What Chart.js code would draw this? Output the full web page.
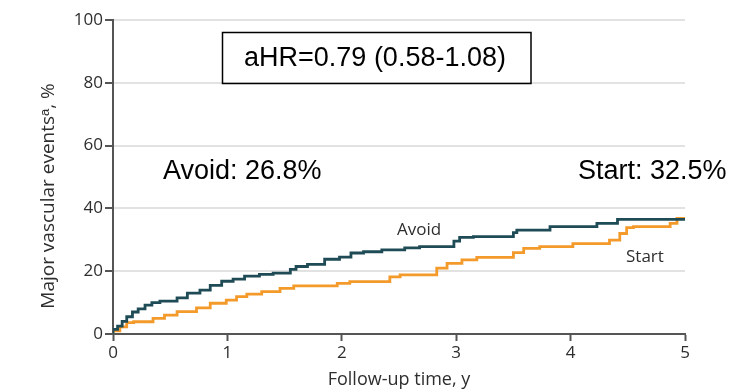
<!DOCTYPE html>
<html>
<head>
<meta charset="utf-8">
<script src="https://cdn.jsdelivr.net/npm/chart.js@4.4.1/dist/chart.umd.min.js"></script>
<style>
  html, body { margin: 0; padding: 0; background: #fff; }
  #wrap { width: 733px; height: 392px; }
</style>
</head>
<body>
<div id="wrap"><canvas id="kmChart" width="733" height="392"></canvas></div>
<script>
// Cumulative incidence (years, %)
const avoidTimes = [0, 0.04, 0.08, 0.12, 0.17, 0.22, 0.28, 0.34, 0.41, 0.56, 0.65, 0.76, 0.85, 0.95, 1.05, 1.15, 1.28, 1.40, 1.55, 1.60, 1.70, 1.85, 1.98, 2.08, 2.19, 2.35, 2.55, 2.68, 2.98, 3.03, 3.15, 3.50, 3.53, 3.82, 4.23, 4.41, 4.61, 5.0];
const avoidValues = [0, 1.5, 2.5, 4, 5.5, 7, 8, 9.2, 10, 10.5, 11.5, 13, 14, 15.5, 16.8, 17.5, 18.4, 19, 19.4, 20.6, 21.5, 22.2, 23.8, 24.5, 25.8, 26.2, 26.8, 27.4, 27.8, 29.6, 30.8, 31, 32.3, 33.1, 34.2, 35.2, 36.5, 36.5];

const startTimes = [0, 0.06, 0.12, 0.18, 0.35, 0.45, 0.56, 0.73, 0.85, 0.99, 1.08, 1.17, 1.30, 1.46, 1.58, 1.96, 2.07, 2.42, 2.51, 2.83, 2.92, 3.05, 3.18, 3.50, 3.59, 3.73, 4.02, 4.34, 4.43, 4.49, 4.55, 4.87, 4.93, 4.98, 5.0];
const startValues = [0, 1, 2.3, 3.6, 3.9, 5, 6, 7.1, 8.3, 9.8, 10.8, 11.9, 12.7, 13.5, 14.5, 15.3, 16.1, 16.7, 18.2, 18.8, 21, 22.5, 23.6, 24.4, 25.9, 27.3, 27.8, 28.8, 29.9, 32, 33.9, 34.2, 35.2, 36.8, 36.8];

const xTicks = [0, 1, 2, 3, 4, 5];
const yTicks = [0, 20, 40, 60, 80, 100];

const hrText = 'aHR=0.79 (0.58-1.08)';
const avoidNote = 'Avoid: 26.8%';
const startNote = 'Start: 32.5%';

const avoidColor = '#1e4b55';
const startColor = '#f39a2b';
const axisColor = '#555555';
const textColor = '#2e2e2e';
const tickFont = { family: '"Open Sans", sans-serif', size: 17 };

function toPoints(times, values) {
  return times.map((t, i) => ({ x: t, y: values[i] }));
}

// Text annotations pasted over the plot
const notesPlugin = {
  id: 'notes',
  afterDraw(chart) {
    const ctx = chart.ctx;
    ctx.save();

    // hazard ratio box
    ctx.strokeStyle = '#000';
    ctx.lineWidth = 1.5;
    ctx.strokeRect(222.5, 32.5, 308.5, 51);
    ctx.fillStyle = '#000';
    ctx.font = '27px "Liberation Sans", Arial, sans-serif';
    ctx.textAlign = 'center';
    ctx.textBaseline = 'middle';
    ctx.fillText(hrText, 375, 59);

    ctx.textAlign = 'left';
    ctx.textBaseline = 'alphabetic';
    ctx.fillText(avoidNote, 163, 179);
    ctx.fillText(startNote, 578, 179);

    // curve labels
    ctx.fillStyle = textColor;
    ctx.font = '17px "Open Sans", sans-serif';
    ctx.fillText('Avoid', 397, 235);
    ctx.fillText('Start', 626, 262);

    // y axis title (sits a little below the middle of the axis)
    ctx.translate(49, 196);
    ctx.rotate(-Math.PI / 2);
    ctx.textAlign = 'center';
    ctx.textBaseline = 'middle';
    ctx.font = '19px "Open Sans", sans-serif';
    ctx.fillText('Major vascular events\u1D43, %', 0, 0);

    ctx.restore();
  }
};

const ctx = document.getElementById('kmChart').getContext('2d');
const kmChart = new Chart(ctx, {
  type: 'line',
  data: {
    datasets: [
      {
        label: 'Avoid',
        data: toPoints(avoidTimes, avoidValues),
        borderColor: avoidColor,
        borderWidth: 2.8,
        stepped: 'after',
        pointRadius: 0,
        fill: false
      },
      {
        label: 'Start',
        data: toPoints(startTimes, startValues),
        borderColor: startColor,
        borderWidth: 2.8,
        stepped: 'after',
        pointRadius: 0,
        fill: false
      }
    ]
  },
  options: {
    responsive: false,
    animation: false,
    layout: { padding: { left: 0, right: 48, top: 20, bottom: 0 } },
    plugins: {
      legend: { display: false },
      tooltip: { enabled: false }
    },
    scales: {
      x: {
        type: 'linear',
        min: 0,
        max: 5,
        afterBuildTicks: (scale) => { scale.ticks = xTicks.map(v => ({ value: v })); },
        afterFit: (scale) => { scale.height = 58; },
        ticks: { color: textColor, font: tickFont, padding: 2, maxRotation: 0 },
        grid: { drawOnChartArea: false, drawTicks: true, tickLength: 7, tickColor: axisColor, tickWidth: 2 },
        border: { color: axisColor, width: 2 },
        title: {
          display: true,
          text: 'Follow-up time, y',
          color: textColor,
          font: { family: '"Open Sans", sans-serif', size: 18 },
          padding: { top: 0, bottom: 1 }
        }
      },
      y: {
        min: 0,
        max: 100,
        afterBuildTicks: (scale) => { scale.ticks = yTicks.map(v => ({ value: v })); },
        afterFit: (scale) => { scale.width = 113; },
        ticks: { color: textColor, font: tickFont, padding: 2 },
        grid: { color: '#e2e2e2', lineWidth: 2, tickLength: 8, tickColor: axisColor, tickWidth: 2 },
        border: { color: axisColor, width: 2 }
      }
    }
  },
  plugins: [notesPlugin]
});
</script>
</body>
</html>
